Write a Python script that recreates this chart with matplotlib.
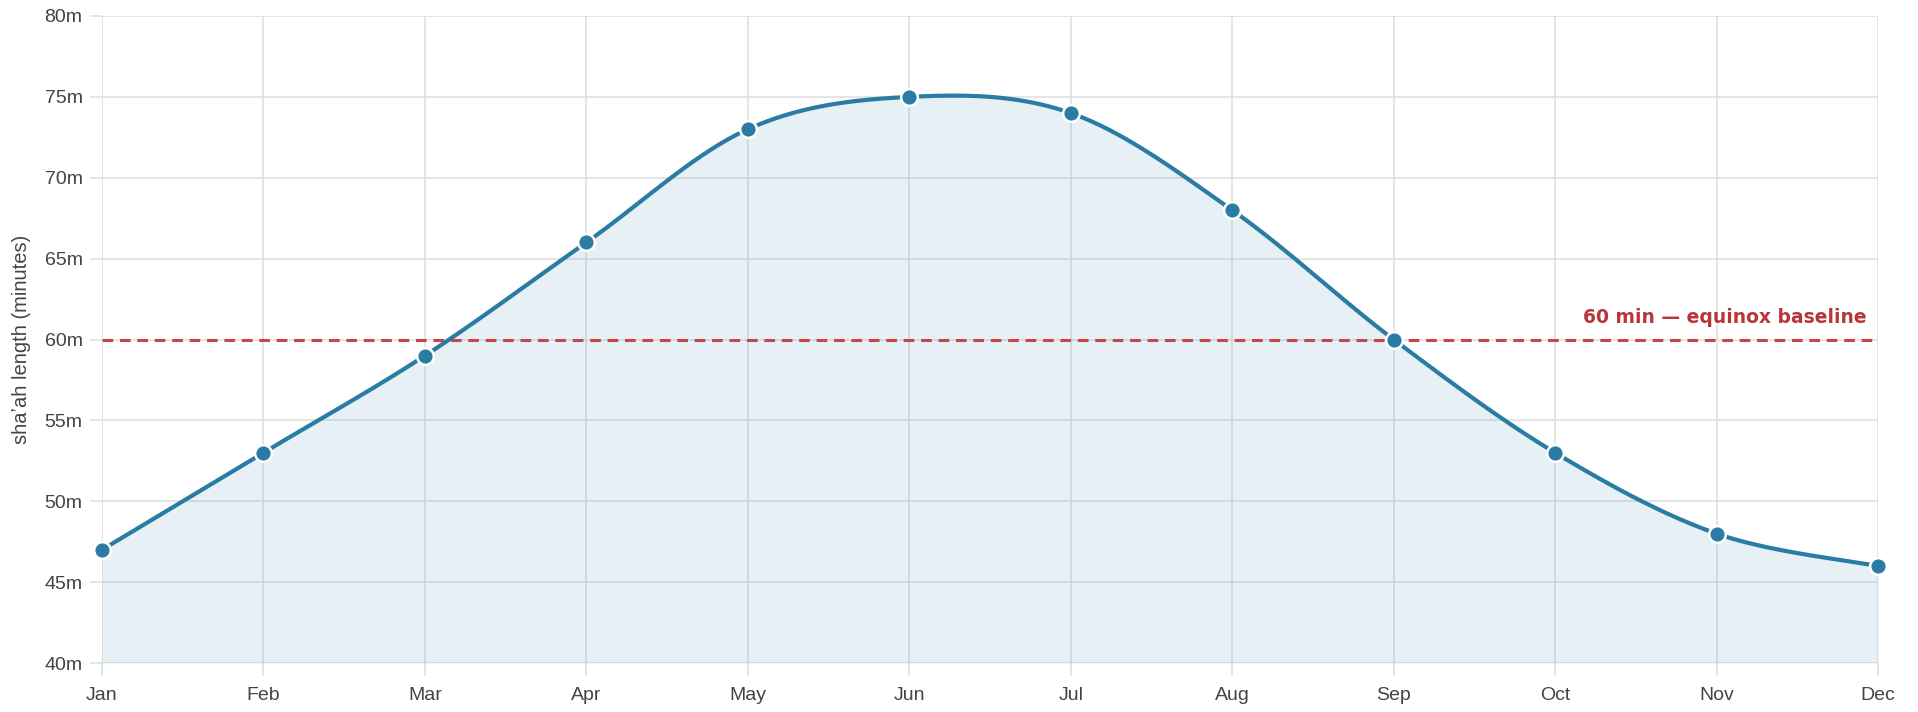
import matplotlib
matplotlib.use('Agg')
import matplotlib.pyplot as plt
import numpy as np

months = ['Jan', 'Feb', 'Mar', 'Apr', 'May', 'Jun', 'Jul', 'Aug', 'Sep', 'Oct', 'Nov', 'Dec']
shaah = [47, 53, 59, 66, 73, 75, 74, 68, 60, 53, 48, 46]
baseline = 60
baseline_label = '60 min \u2014 equinox baseline'
yticks = [40, 45, 50, 55, 60, 65, 70, 75, 80]

plt.rcParams['font.family'] = ['Liberation Sans', 'DejaVu Sans']


def cardinal(x, y, n=40):
    # cardinal spline (tension 0), endpoints duplicated like d3.curveCardinal
    p = np.column_stack([x, y]).astype(float)
    p = np.vstack([p[:1], p, p[-1:]])
    out = []
    t = np.linspace(0, 1, n)[:, None]
    for i in range(1, len(p) - 2):
        p0, p1, p2, p3 = p[i - 1], p[i], p[i + 1], p[i + 2]
        m1 = (p2 - p0) / 2
        m2 = (p3 - p1) / 2
        h00 = 2 * t**3 - 3 * t**2 + 1
        h10 = t**3 - 2 * t**2 + t
        h01 = -2 * t**3 + 3 * t**2
        h11 = t**3 - t**2
        out.append(h00 * p1 + h10 * m1 + h01 * p2 + h11 * m2)
    out = np.vstack(out)
    return out[:, 0], out[:, 1]


fig = plt.figure(figsize=(19.18, 7.12), dpi=100)
ax = fig.add_axes([102 / 1918, 49 / 712, 1776 / 1918, 647 / 712])

x = np.arange(len(months))
xs, ys = cardinal(x, shaah)

ax.fill_between(xs, 40, ys, color='#2a7ca4', alpha=0.11, lw=0, zorder=1)
ax.plot(xs, ys, color='#2a7ca4', lw=3, zorder=3, solid_capstyle='round')
ax.plot(x, shaah, 'o', ms=12, mfc='#2a7ca4', mec='white', mew=1.8, zorder=4, clip_on=False)

ax.axhline(baseline, color='#c8464a', lw=2.2, ls=(0, (3.5, 2.2)), zorder=2)
ax.text(len(months) - 1 - 0.07, baseline + 0.75, baseline_label, color='#b9353a',
        fontsize=13.5, fontweight='bold', ha='right', va='bottom',
        family=['DejaVu Sans'], zorder=5)

ax.set_xlim(0, len(months) - 1)
ax.set_ylim(40, 80)
ax.set_xticks(x)
ax.set_xticklabels(months)
ax.set_yticks(yticks)
ax.set_yticklabels([f'{v}m' for v in yticks])
ax.grid(True, color='#e0e0e0', lw=1.2, zorder=0)
ax.set_axisbelow(True)
for sp in ax.spines.values():
    sp.set_visible(False)
ax.tick_params(axis='both', length=9, width=1.2, color='#e0e0e0', labelsize=14, labelcolor='#444444', pad=5)
ax.tick_params(axis='x', pad=8)
ax.set_ylabel("sha\u02bcah length (minutes)", fontsize=14.5, color='#444444', labelpad=10)

fig.savefig('out.png', dpi=100)
